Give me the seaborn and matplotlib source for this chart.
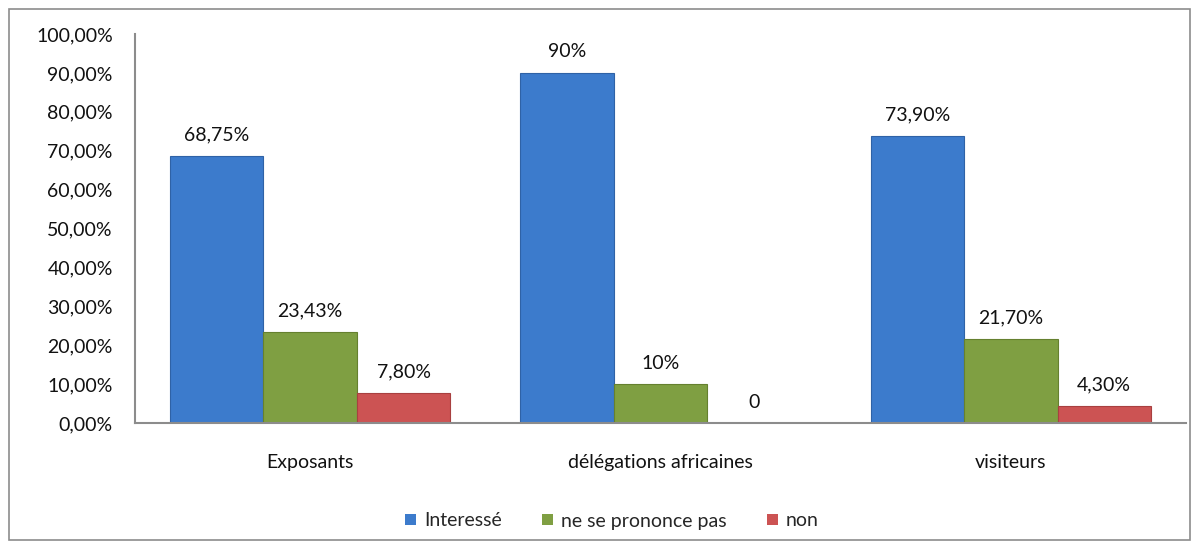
import matplotlib
matplotlib.use("Agg")
import matplotlib.pyplot as plt
import seaborn as sns
import pandas as pd
from matplotlib.patches import Rectangle
from matplotlib.ticker import FuncFormatter

categories = ["Exposants", "délégations africaines", "visiteurs"]
series = ["Interessé", "ne se prononce pas", "non"]
interesse = [0.6875, 0.90, 0.739]
ne_se_prononce = [0.2343, 0.10, 0.217]
non = [0.078, 0.0, 0.043]
labels_interesse = ["68,75%", "90%", "73,90%"]
labels_nsp = ["23,43%", "10%", "21,70%"]
labels_non = ["7,80%", "0", "4,30%"]
yticks = [i / 10 for i in range(11)]

colors = ["#3C7BCC", "#7F9F42", "#CC5353"]
edges = ["#2F62A6", "#65802F", "#A84040"]

rows = []
for s, vals in zip(series, [interesse, ne_se_prononce, non]):
    for c, v in zip(categories, vals):
        rows.append({"cat": c, "serie": s, "val": v})
df = pd.DataFrame(rows)

sns.set_theme(style="white")
plt.rcParams["font.family"] = ["Lato", "DejaVu Sans"]

fig = plt.figure(figsize=(12, 5.48), dpi=100)
ax = fig.add_axes([0.1125, 0.228, 0.8758, 0.71])

sns.barplot(data=df, x="cat", y="val", hue="serie", order=categories,
            hue_order=series, palette=colors, width=0.8, ax=ax,
            edgecolor="none", linewidth=0, errorbar=None, saturation=1)

for cont, labs, ec in zip(ax.containers, [labels_interesse, labels_nsp, labels_non], edges):
    for p in cont.patches:
        p.set_edgecolor(ec)
        p.set_linewidth(0.8)
    ax.bar_label(cont, labels=labs, padding=9, fontsize=14, color="#111111")

ax.set_ylim(0, 1.0)
ax.set_xlim(-0.5, 2.5)
ax.set_yticks(yticks)
ax.yaxis.set_major_formatter(FuncFormatter(lambda v, p: f"{v*100:.2f}%".replace(".", ",")))
ax.tick_params(axis="both", labelsize=14, colors="#111111", length=0)
ax.tick_params(axis="y", pad=16)
ax.tick_params(axis="x", pad=22)
ax.set_xlabel("")
ax.set_ylabel("")
for sp in ["top", "right"]:
    ax.spines[sp].set_visible(False)
for sp in ["left", "bottom"]:
    ax.spines[sp].set_color("#8C8C8C")
    ax.spines[sp].set_linewidth(1.5)

leg = ax.legend(loc="center", ncol=3, frameon=False,
                fontsize=14, handlelength=0.55, handleheight=0.55, handletextpad=0.4,
                columnspacing=2.1)
leg.set_bbox_to_anchor((0.51, 1 - 521 / 548), transform=fig.transFigure)

fig.patches.append(Rectangle((9 / 1200, 1 - 540 / 548), (1190 - 9) / 1200, (540 - 9) / 548,
                             transform=fig.transFigure, fill=False, edgecolor="#8C8C8C",
                             linewidth=1.2))

fig.savefig("out.png", dpi=100)
